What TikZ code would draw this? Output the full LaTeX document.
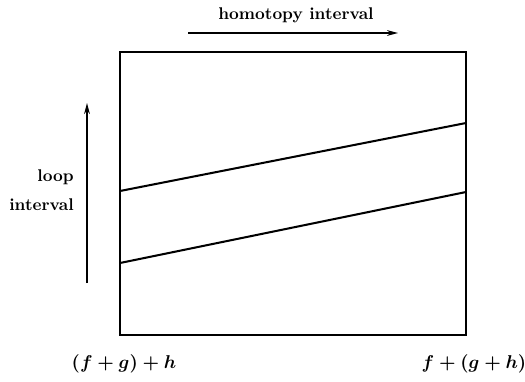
\documentclass[tikz,border=0pt]{standalone}
\usetikzlibrary{arrows.meta}
\tikzset{
  hom frame/.style={draw=black, line width=1.2pt},
  hom edge/.style={draw=black, line width=1.2pt},
  hom arrow/.style={draw=black, line width=0.9pt, -{Stealth[length=6.5pt,width=3.4pt]}},
  hom label/.style={font=\bfseries, text=black, inner sep=0pt},
  hom end/.style={font=\fontsize{11}{13}\selectfont\boldmath, text=black, inner sep=0pt},
}

\begin{document}
\begin{tikzpicture}[x=0.59pt,y=-0.59pt]
  \useasboundingbox (0,0) rectangle (525,381);
  \draw[hom frame] (120,52) rectangle (466,335);
  % the two boundary curves of the homotopy
  \coordinate (upL) at (120,191);
  \coordinate (upR) at (466,123);
  \coordinate (loL) at (120,263);
  \coordinate (loR) at (466,192);
  \draw[hom edge] (upL) -- (upR);
  \draw[hom edge] (loL) -- (loR);
  % axes
  \node[hom label] (homlab) at (296,15) {homotopy interval};
  \coordinate (homS) at (188,33);
  \coordinate (homE) at (398,33);
  \draw[hom arrow] (homS) -- (homE);
  \node[hom label, align=right, anchor=east] (looplab) at (74,190) {loop\\[5pt]interval};
  \coordinate (loopS) at (87,283);
  \coordinate (loopE) at (87,103);
  \draw[hom arrow] (loopS) -- (loopE);
  % end points
  \node[hom end] (leftend) at (124,364) {$(f+g)+h$};
  \node[hom end] (rightend) at (474,364) {$f+(g+h)$};
\end{tikzpicture}
\end{document}
